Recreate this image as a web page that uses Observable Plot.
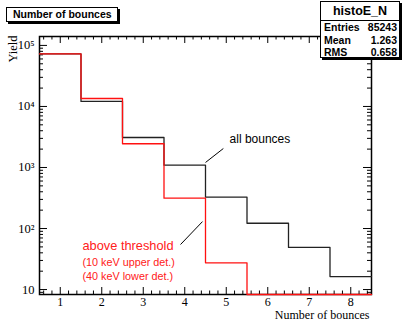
<!DOCTYPE html>
<html>
<head>
<meta charset="utf-8">
<script src="https://cdn.jsdelivr.net/npm/d3@7"></script>
<script src="https://cdn.jsdelivr.net/npm/@observablehq/plot@0.6"></script>
<style>
  body { margin: 0; background: #fff; }
  #wrap { position: relative; width: 403px; height: 321px; overflow: hidden; background: #fff; }
  #wrap svg { position: absolute; left: 0; top: 0; }
  .box { position: absolute; background: #fff; border: 1px solid #000; box-shadow: 2px 2px 0 #000; box-sizing: border-box; white-space: nowrap; }
  #title { left: 6px; top: 7px; width: 112px; height: 15px; font: bold 10.5px "Liberation Sans", Arial, sans-serif; line-height: 13px; padding-left: 6px; }
  #stats { left: 320px; top: 1px; width: 80px; height: 57px; font: bold 10.5px "Liberation Sans", Arial, sans-serif; }
  #stats .head { height: 18px; line-height: 18px; text-align: center; font-size: 12.5px; border-bottom: 1px solid #000; }
  #stats .row { display: flex; justify-content: space-between; height: 12.7px; line-height: 12.7px; padding: 0 2px 0 3px; }
</style>
</head>
<body>
<div id="wrap"></div>
<script>
// Bin centres (number of bounces) and counts per bin
const bins = [1, 2, 3, 4, 5, 6, 7, 8];
const allBounces = [72600, 12100, 3100, 1090, 326, 122, 49, 16.3];
const aboveThreshold = [72600, 13500, 2450, 314, 27.4, 0, 0, 0];

// Axis ticks and labels
const xTicks = [1, 2, 3, 4, 5, 6, 7, 8];
const yTicks = [10, 100, 1000, 10000, 100000];
const yTickLabels = ["10", "10\u00B2", "10\u00B3", "10\u2074", "10\u2075"];

// Histogram title and statistics box
const histTitle = "Number of bounces";
const histName = "histoE_N";
const statNames = ["Entries", "Mean", "RMS"];
const statValues = ["85243", "1.263", "0.658"];

// Annotation labels
const allLabel = "all bounces";
const thresholdLines = ["above threshold", "(10 keV upper det.)", "(40 keV lower det.)"];

const W = 403, H = 321;
const mL = 39, mR = 32, mT = 36, mB = 27;
const plotW = W - mL - mR, plotH = H - mT - mB;
const yDomain = [8.3, 1.4e5];
const xDomain = [0.5, 8.5];

// Outline of a histogram: one step per bin; empty bins rest on the axis floor
function steps(values) {
  const pts = bins.map((b, i) => ({x: b - 0.5, y: Math.max(values[i], yDomain[0])}));
  pts.push({x: bins[bins.length - 1] + 0.5, y: pts[pts.length - 1].y});
  return pts;
}

const xMinor = d3.range(0.6, 8.45, 0.2).map(v => +v.toFixed(1)).filter(v => Math.abs(v - Math.round(v)) > 1e-6);
const yMinor = [];
for (let e = 0; e <= 5; e++) for (let k = 2; k <= 9; k++) {
  const v = k * 10 ** e;
  if (v > yDomain[0] && v < yDomain[1]) yMinor.push(v);
}

const serif = "Liberation Serif, Times New Roman, serif";
const sans = "Liberation Sans, Arial, sans-serif";

const chart = Plot.plot({
  width: W, height: H,
  marginLeft: mL, marginRight: mR, marginTop: mT, marginBottom: mB,
  x: {domain: xDomain, axis: null},
  y: {type: "log", domain: yDomain, axis: null},
  style: {background: "transparent", fontFamily: sans},
  marks: [
    Plot.frame({stroke: "#000", strokeWidth: 1.5}),
    // ticks on all four sides, pointing inward
    Plot.ruleX(xTicks, {x: d => d, insetTop: plotH - 7, stroke: "#000"}),
    Plot.ruleX(xMinor, {x: d => d, insetTop: plotH - 3.5, stroke: "#000"}),
    Plot.ruleX(xTicks, {x: d => d, insetBottom: plotH - 7, stroke: "#000"}),
    Plot.ruleX(xMinor, {x: d => d, insetBottom: plotH - 3.5, stroke: "#000"}),
    Plot.ruleY(yTicks, {y: d => d, insetRight: plotW - 8, stroke: "#000"}),
    Plot.ruleY(yMinor, {y: d => d, insetRight: plotW - 4, stroke: "#000"}),
    Plot.ruleY(yTicks, {y: d => d, insetLeft: plotW - 8, stroke: "#000"}),
    Plot.ruleY(yMinor, {y: d => d, insetLeft: plotW - 4, stroke: "#000"}),
    // tick labels
    Plot.text(xTicks, {x: d => d, text: d => String(d), frameAnchor: "bottom", dy: 8, lineAnchor: "middle", fontFamily: serif, fontSize: 12, fill: "#000"}),
    Plot.text(yTicks, {y: d => d, text: (d, i) => yTickLabels[i], frameAnchor: "left", dx: -5, textAnchor: "end", lineAnchor: "middle", fontFamily: serif, fontSize: 12.5, fill: "#000"}),
    // axis titles
    Plot.text(["Number of bounces"], {frameAnchor: "bottom-right", dx: -2, dy: 21, textAnchor: "end", lineAnchor: "middle", fontFamily: serif, fontSize: 12, fill: "#000"}),
    Plot.text(["Yield"], {frameAnchor: "top-left", dx: -26.5, dy: -1, rotate: -90, textAnchor: "end", lineAnchor: "middle", fontFamily: serif, fontSize: 12.5, fill: "#000"}),
    // histograms
    Plot.line(steps(allBounces), {x: "x", y: "y", curve: "step-after", stroke: "#222", strokeWidth: 1.3}),
    Plot.line(steps(aboveThreshold), {x: "x", y: "y", curve: "step-after", stroke: "#ff1010", strokeWidth: 1.3}),
    // annotations
    Plot.link([{x1: 4.5, y1: 1208, x2: 4.93, y2: 2047}], {x1: "x1", y1: "y1", x2: "x2", y2: "y2", stroke: "#000", strokeWidth: 1}),
    Plot.text([{x: 5.08, y: 2880}], {x: "x", y: "y", text: () => allLabel, textAnchor: "start", lineAnchor: "middle", fontFamily: sans, fontSize: 12, fill: "#000"}),
    Plot.link([{x1: 3.898, y1: 54.7, x2: 4.428, y2: 130}], {x1: "x1", y1: "y1", x2: "x2", y2: "y2", stroke: "#000", strokeWidth: 1}),
    Plot.text([{x: 1.536, y: 51.3, t: thresholdLines[0]},
               {x: 1.536, y: 27.7, t: thresholdLines[1]},
               {x: 1.536, y: 16.3, t: thresholdLines[2]}],
      {x: "x", y: "y", text: "t", textAnchor: "start", lineAnchor: "middle", fontFamily: sans, fontSize: 10.8, fill: "#ff2020"})
  ]
});

const wrap = document.getElementById("wrap");
wrap.appendChild(chart);
// the first annotation line is set in a larger size than the two below it
d3.select(chart).selectAll("text").each(function () {
  if (this.textContent === thresholdLines[0]) this.setAttribute("font-size", 12.8);
});

const title = document.createElement("div");
title.id = "title"; title.className = "box"; title.textContent = histTitle;
wrap.appendChild(title);

const stats = document.createElement("div");
stats.id = "stats"; stats.className = "box";
const head = document.createElement("div");
head.className = "head"; head.textContent = histName;
stats.appendChild(head);
statNames.forEach((n, i) => {
  const r = document.createElement("div");
  r.className = "row";
  r.innerHTML = `<span>${n}</span><span>${statValues[i]}</span>`;
  stats.appendChild(r);
});
wrap.appendChild(stats);
</script>
</body>
</html>
